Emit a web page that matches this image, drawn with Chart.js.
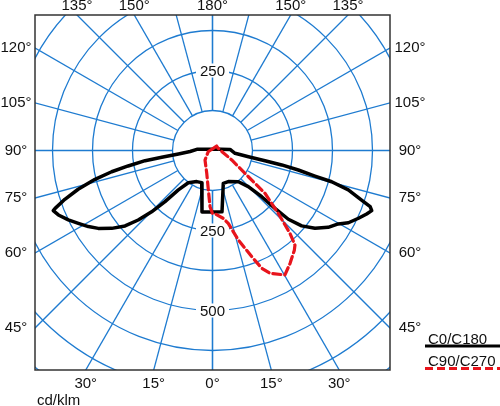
<!DOCTYPE html>
<html>
<head>
<meta charset="utf-8">
<script src="https://cdn.jsdelivr.net/npm/chart.js@4.4.1/dist/chart.umd.min.js"></script>
<style>
    html, body { margin: 0; padding: 0; background: #fff; }
    #wrap { width: 500px; height: 406px; }
</style>
</head>
<body>
<div id="wrap"><canvas id="polarChart" width="500" height="406"></canvas></div>
<script>
// Luminous intensity in cd/klm, gamma in degrees (0 = straight down)
const c0Gamma   = [0, 8.8, 18.2, 26.9, 39.6, 44.7, 46.8, 47.2, 47.8, 49.8, 52.8, 56.4, 59.7, 62, 65.1, 67.6, 69.3, 70.4, 71.6, 73.8, 75.3, 76, 77.2, 78.2, 79, 80.2, 82.9, 93.3, 180];
const c0Value   = [192, 194, 108, 109, 127, 159, 211, 266, 320, 365, 402, 434, 455, 481, 503, 521, 532, 523, 491, 442, 385, 330, 275, 221, 167, 114, 71, 55, 5];
const c180Gamma = [0, 9.7, 18.5, 26.9, 36.9, 40.9, 42.9, 44.8, 46.9, 49.2, 52.3, 55.7, 58.5, 61.5, 64.3, 67.3, 69.3, 69.8, 71.7, 73.9, 76.2, 78.1, 79.6, 81.4, 82.4, 84.2, 87.5, 94.3, 180];
const c180Value = [192, 195, 106, 109, 126, 163, 218, 270, 318, 361, 398, 432, 455, 477, 500, 522, 532, 524, 486, 437, 378, 322, 268, 213, 160, 107, 70, 49, 5];
const c90Gamma  = [0, 2.3, 9.1, 12.2, 16.1, 20.3, 22.7, 25.1, 30.2, 34.5, 39.4, 41.1, 43.1, 46.3, 50.8, 53.8, 63.7, 110.8, 137, 180];
const c90Value  = [197, 198, 215, 233, 291, 354, 399, 424, 450, 428, 403, 392, 354, 284, 212, 139, 67, 19, 19, 5];
const c270Gamma = [0, 2.5, 6, 14.3, 38, 74, 90, 180];
const c270Value = [197, 176, 124, 73, 38, 14, 8, 5];

const seriesNames = ['C0/C180', 'C90/C270'];
const ringValues = [125, 250, 375, 500, 625, 750, 875];
const ringLabelValues = [250, 500];
const spokeAngles = [0, 15, 30, 45, 60, 75, 90, 105, 120, 135, 150, 165, 180];
const angleLabels = [0, 15, 30, 45, 60, 75, 90, 105, 120, 135, 150, 180];

const GRID = '#1e7bd0';
const FONT = '15px "Liberation Sans", Arial, sans-serif';

function toXY(gamma, value, side) {
    const a = gamma * Math.PI / 180;
    return { x: side * value * Math.sin(a), y: -value * Math.cos(a) };
}

// left half (C180 / C270) from the top down, then right half back up
function curve(leftGamma, leftValue, rightGamma, rightValue) {
    const pts = [];
    for (let i = leftGamma.length - 1; i >= 0; i--) pts.push(toXY(leftGamma[i], leftValue[i], -1));
    for (let i = 0; i < rightGamma.length; i++) pts.push(toXY(rightGamma[i], rightValue[i], 1));
    return pts;
}

const polarGrid = {
    id: 'polarGrid',
    beforeDatasetsDraw(chart) {
        const { ctx, chartArea: a, scales: { x, y } } = chart;
        const cx = x.getPixelForValue(0), cy = y.getPixelForValue(0);
        ctx.save();
        ctx.beginPath();
        ctx.rect(a.left, a.top, a.width, a.height);
        ctx.clip();
        ctx.strokeStyle = GRID;
        ctx.lineWidth = 1.3;
        ringValues.forEach(r => {
            ctx.beginPath();
            ctx.arc(cx, cy, x.getPixelForValue(r) - cx, 0, Math.PI * 2);
            ctx.stroke();
        });
        spokeAngles.forEach(g => [-1, 1].forEach(s => {
            const p0 = toXY(g, ringValues[0], s), p1 = toXY(g, 3000, s);
            ctx.beginPath();
            ctx.moveTo(x.getPixelForValue(p0.x), y.getPixelForValue(p0.y));
            ctx.lineTo(x.getPixelForValue(p1.x), y.getPixelForValue(p1.y));
            ctx.stroke();
        }));
        // ring values on the vertical axis
        ctx.font = FONT;
        ctx.textAlign = 'center';
        ctx.textBaseline = 'middle';
        ringLabelValues.forEach(v => [v, -v].forEach(yv => {
            const py = y.getPixelForValue(yv);
            if (py < a.top + 8 || py > a.bottom - 8) return;
            const w = ctx.measureText(String(v)).width + 8;
            ctx.fillStyle = '#fff';
            ctx.fillRect(cx - w / 2, py - 7, w, 14);
            ctx.fillStyle = '#111';
            ctx.fillText(String(v), cx, py + 1);
        }));
        ctx.restore();
    },
    afterDatasetsDraw(chart) {
        const { ctx, chartArea: a } = chart;
        ctx.save();
        ctx.strokeStyle = '#333';
        ctx.lineWidth = 1.5;
        ctx.strokeRect(a.left, a.top, a.width, a.height);
        ctx.restore();
    },
    afterDraw(chart) {
        const { ctx, chartArea: a, scales: { x, y } } = chart;
        const cx = x.getPixelForValue(0), cy = y.getPixelForValue(0);
        ctx.save();
        ctx.font = FONT;
        ctx.fillStyle = '#111';
        ctx.textAlign = 'center';
        ctx.textBaseline = 'middle';
        // angle labels where each spoke leaves the frame
        angleLabels.forEach(g => {
            const sides = (g === 0 || g === 180) ? [1] : [-1, 1];
            sides.forEach(s => {
                const p = toXY(g, 1, s);
                const dx = x.getPixelForValue(p.x) - cx;
                const dy = y.getPixelForValue(p.y) - cy;
                const tx = dx > 1e-9 ? (a.right - cx) / dx : dx < -1e-9 ? (a.left - cx) / dx : Infinity;
                const ty = dy > 1e-9 ? (a.bottom - cy) / dy : dy < -1e-9 ? (a.top - cy) / dy : Infinity;
                const t = Math.min(tx, ty);
                let hx = cx + dx * t, hy = cy + dy * t;
                if (tx < ty) hx += dx > 0 ? 20 : -19;
                else hy += dy > 0 ? 14 : -9;
                ctx.fillText(g + '°', hx, hy);
            });
        });
        ctx.textAlign = 'left';
        ctx.textBaseline = 'alphabetic';
        ctx.fillText('cd/klm', a.left + 2, 405);
        // legend: name with its line style underneath
        chart.data.datasets.forEach((ds, i) => {
            const base = 343.5 + i * 22.5;
            ctx.fillStyle = '#111';
            ctx.fillText(ds.label, 428, base);
            ctx.beginPath();
            ctx.strokeStyle = ds.borderColor;
            ctx.lineWidth = 3;
            ctx.setLineDash(ds.borderDash || []);
            ctx.moveTo(425, base + 2.5);
            ctx.lineTo(500, base + 2.5);
            ctx.stroke();
        });
        ctx.restore();
    }
};

new Chart(document.getElementById('polarChart'), {
    type: 'scatter',
    data: {
        datasets: [{
            label: seriesNames[0],
            data: curve(c180Gamma, c180Value, c0Gamma, c0Value),
            showLine: true,
            borderColor: '#000',
            borderWidth: 3.5,
            pointRadius: 0,
            order: 1
        }, {
            label: seriesNames[1],
            data: curve(c270Gamma, c270Value, c90Gamma, c90Value),
            showLine: true,
            borderColor: '#e8141c',
            borderWidth: 3.2,
            borderDash: [8, 4],
            pointRadius: 0,
            order: 0
        }]
    },
    options: {
        responsive: false,
        animation: false,
        layout: { padding: { left: 35, top: 15, right: 110, bottom: 36 } },
        elements: { line: { tension: 0, borderJoinStyle: 'round', borderCapStyle: 'round' } },
        plugins: { legend: { display: false }, tooltip: { enabled: false } },
        scales: {
            x: { type: 'linear', min: -554.7, max: 554.7, display: false },
            y: { type: 'linear', min: -686, max: 423.4, display: false }
        }
    },
    plugins: [polarGrid]
});
</script>
</body>
</html>
